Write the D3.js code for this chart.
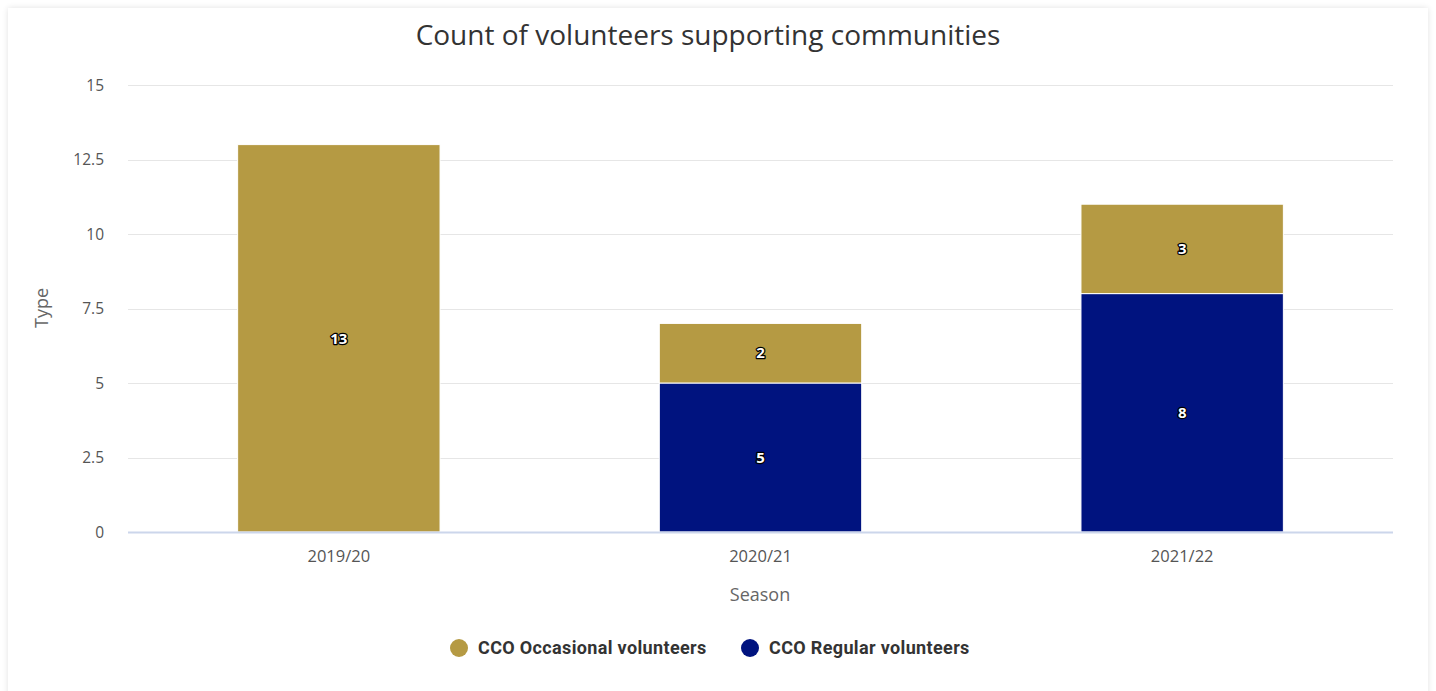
<!DOCTYPE html>
<html>
<head>
<meta charset="utf-8">
<script src="https://cdn.jsdelivr.net/npm/d3@7"></script>
<style>
  html, body { margin: 0; padding: 0; background: #ffffff; }
  body { width: 1436px; height: 691px; overflow: hidden; font-family: "Open Sans", "Noto Sans", sans-serif; }
  #card { position: absolute; left: 8px; top: 8px; width: 1420px; height: 700px; background: #fff;
          box-shadow: 0 0 6px rgba(0,0,0,0.12); }
  svg { position: absolute; left: 0; top: 0; }
</style>
</head>
<body>
<div id="card"></div>
<svg id="chart" width="1436" height="691"></svg>
<script>
// Seasons and counts per volunteer type
const seasons = ["2019/20", "2020/21", "2021/22"];
const occasional = [13, 2, 3];
const regular = [0, 5, 8];
const yTicks = [0, 2.5, 5, 7.5, 10, 12.5, 15];
const seriesNames = ["CCO Occasional volunteers", "CCO Regular volunteers"];
const seriesColors = ["#b59a43", "#00137f"];

const svg = d3.select("#chart");
const plot = { left: 128, right: 1393, top: 85, bottom: 532 };

const x = d3.scaleBand().domain(seasons).range([plot.left, plot.right]).paddingInner(0.52).paddingOuter(0.26);
const y = d3.scaleLinear().domain([0, 15]).range([plot.bottom, plot.top]);

// Title
svg.append("text").attr("x", 708).attr("y", 45).attr("text-anchor", "middle")
  .attr("font-size", 28).attr("fill", "#333").text("Count of volunteers supporting communities");

// Grid lines
svg.append("g").selectAll("line").data(yTicks.filter(d => d > 0)).join("line")
  .attr("x1", plot.left).attr("x2", plot.right)
  .attr("y1", d => Math.round(y(d)) + 0.5).attr("y2", d => Math.round(y(d)) + 0.5)
  .attr("stroke", "#e6e6e6").attr("stroke-width", 1);

// Y axis labels
const yAxis = d3.axisLeft(y).tickValues(yTicks).tickSize(0).tickPadding(0)
  .tickFormat(d => d3.format("~g")(d));
const gy = svg.append("g").attr("transform", `translate(${plot.left - 24},0)`).call(yAxis);
gy.select(".domain").remove();
gy.selectAll("text").attr("font-size", 15.5).attr("fill", "#555").attr("font-family", "Open Sans").attr("dy", "0.35em");

// Stacked data
const rows = seasons.map((s, i) => ({ season: s, occ: occasional[i], reg: regular[i] }));
const stack = d3.stack().keys(["reg", "occ"])(rows);
const colorFor = { occ: seriesColors[0], reg: seriesColors[1] };

const layers = svg.append("g").selectAll("g").data(stack).join("g")
  .attr("fill", d => colorFor[d.key]);
layers.selectAll("rect").data(d => d.filter(p => p[1] - p[0] > 0)).join("rect")
  .attr("x", d => x(d.data.season))
  .attr("width", x.bandwidth())
  .attr("y", d => y(d[1]))
  .attr("height", d => y(d[0]) - y(d[1]))
  .attr("stroke", "#fff").attr("stroke-width", 1);

// Value labels
const labels = [];
stack.forEach(layer => layer.forEach(p => {
  const v = p[1] - p[0];
  if (v > 0) labels.push({ v, cx: x(p.data.season) + x.bandwidth() / 2, cy: (y(p[0]) + y(p[1])) / 2 });
}));
const lg = svg.append("g");
lg.selectAll("text").data(labels).join("text")
  .attr("x", d => d.cx).attr("y", d => d.cy).attr("dy", "0.35em")
  .attr("text-anchor", "middle").attr("font-size", 15).attr("font-weight", "bold")
  .attr("fill", "#fff").attr("stroke", "#000").attr("stroke-width", 2.5)
  .attr("paint-order", "stroke").attr("stroke-linejoin", "round")
  .text(d => d.v);

// Baseline
svg.append("line").attr("x1", plot.left).attr("x2", plot.right)
  .attr("y1", plot.bottom + 0.5).attr("y2", plot.bottom + 0.5)
  .attr("stroke", "#ccd6eb").attr("stroke-width", 2);

// X axis labels
const xAxis = d3.axisBottom(x).tickSize(0).tickPadding(0);
const gx = svg.append("g").attr("transform", `translate(0,${plot.bottom + 30})`).call(xAxis);
gx.select(".domain").remove();
gx.selectAll("text").attr("font-size", 16.5).attr("fill", "#555").attr("font-family", "Open Sans").attr("dy", 0);

// Axis titles
svg.append("text").attr("x", 760).attr("y", 601).attr("text-anchor", "middle")
  .attr("font-size", 18).attr("fill", "#666").text("Season");
svg.append("text").attr("transform", "translate(48,308) rotate(-90)").attr("text-anchor", "middle")
  .attr("font-size", 18).attr("fill", "#666").text("Type");

// Legend
const legendX = [459, 750];
const leg = svg.append("g").selectAll("g").data(seriesNames).join("g")
  .attr("transform", (d, i) => `translate(${legendX[i]},648)`);
leg.append("circle").attr("r", 9).attr("fill", (d, i) => seriesColors[i]);
leg.append("text").attr("x", 19).attr("dy", "0.35em").attr("font-size", 18).attr("font-weight", "bold")
  .attr("fill", "#333").attr("font-family", "Roboto").attr("letter-spacing", 0.35).text(d => d);
</script>
</body>
</html>
